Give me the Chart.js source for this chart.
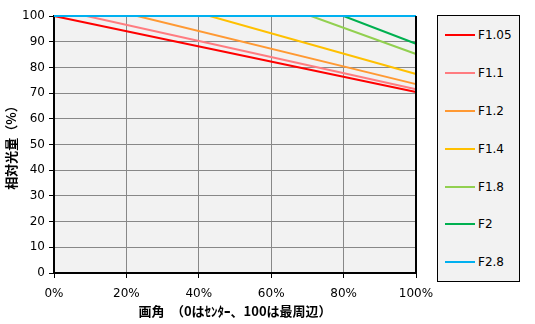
<!DOCTYPE html>
<html lang="ja">
<head>
<meta charset="UTF-8">
<title>相対光量</title>
<script src="https://cdn.jsdelivr.net/npm/chart.js"></script>
<style>
  body { margin: 0; background: #fff; }
  #wrap { position: relative; width: 535px; height: 324px; }
  #legend {
    position: absolute; left: 437px; top: 15px; width: 83px; height: 267px;
    background: #f2f2f2; border: 1px solid #000; box-sizing: border-box;
    font-family: "DejaVu Sans", sans-serif; font-size: 12px; color: #000;
  }
  .item { position: absolute; left: 7px; height: 14px; line-height: 14px; }
  .item span.sw { position: absolute; left: 0; top: 6px; width: 30px; height: 2px; }
  .item span.tx { position: absolute; left: 33px; white-space: nowrap; }
</style>
</head>
<body>
<div id="wrap">
  <canvas id="c" width="535" height="324"></canvas>
  <div id="legend"></div>
</div>
<script>
// series names and colours
var names = ['F1.05', 'F1.1', 'F1.2', 'F1.4', 'F1.8', 'F2', 'F2.8'];
var colors = ['#ff0000', '#ff7c80', '#ff9933', '#ffc000', '#92d050', '#00b050', '#00b0f0'];

// angle of view (%) where each curve leaves 100, and the value at the edge
var angles = [
  [0, 100],
  [0, 9, 100],
  [0, 23, 100],
  [0, 43, 100],
  [0, 71, 100],
  [0, 80, 100],
  [0, 100]
];
var light = [
  [100, 70.4],
  [100, 100, 71.5],
  [100, 100, 73.5],
  [100, 100, 77.4],
  [100, 100, 85.2],
  [100, 100, 89.2],
  [100, 100]
];

var xTicks = [0, 20, 40, 60, 80, 100];
var yTicks = [0, 10, 20, 30, 40, 50, 60, 70, 80, 90, 100];

// later series are drawn on top (F2.8 covers the 100 line)
var datasets = names.map(function (n, i) {
  return {
    label: n,
    data: angles[i].map(function (a, k) { return { x: a, y: light[i][k] }; }),
    borderColor: colors[i],
    borderWidth: 2,
    pointRadius: 0,
    fill: false,
    tension: 0,
    clip: false,
    order: names.length - 1 - i
  };
});

// plot background and right border
var plotFrame = {
  id: 'plotFrame',
  beforeDraw: function (chart) {
    var a = chart.chartArea, ctx = chart.ctx;
    ctx.save();
    ctx.fillStyle = '#f2f2f2';
    ctx.fillRect(a.left, a.top, a.right - a.left, a.bottom - a.top);
    ctx.restore();
  },
  afterDatasetsDraw: function (chart) {
    var a = chart.chartArea, ctx = chart.ctx;
    ctx.save();
    ctx.strokeStyle = '#000';
    ctx.lineWidth = 2;
    ctx.beginPath();
    ctx.moveTo(a.right, a.top);
    ctx.lineTo(a.right, a.bottom);
    ctx.stroke();
    ctx.restore();
  }
};

var tickFont = { family: 'DejaVu Sans', size: 12 };
var titleFont = { family: 'Noto Sans CJK JP', size: 13, weight: 'bold' };

new Chart(document.getElementById('c').getContext('2d'), {
  type: 'line',
  data: { datasets: datasets },
  options: {
    responsive: false,
    animation: false,
    layout: { padding: { top: 16, right: 119, left: 0, bottom: 0 } },
    plugins: { legend: { display: false }, tooltip: { enabled: false } },
    scales: {
      x: {
        type: 'linear', min: 0, max: 100,
        afterBuildTicks: function (s) { s.ticks = xTicks.map(function (v) { return { value: v }; }); },
        afterFit: function (s) { s.height = 51; },
        ticks: { color: '#000', font: tickFont, padding: 9, maxRotation: 0,
          callback: function (v) { return v + '%'; } },
        grid: { color: '#888', tickColor: '#000', tickLength: 5 },
        border: { color: '#000', width: 2 },
        title: { display: true, text: '画角　（0はｾﾝﾀｰ、100は最周辺）', color: '#000',
          font: titleFont, padding: { top: 0, bottom: 5 } }
      },
      y: {
        min: 0, max: 100,
        afterBuildTicks: function (s) { s.ticks = yTicks.map(function (v) { return { value: v }; }); },
        afterFit: function (s) { s.width = 54; },
        ticks: { color: '#000', font: tickFont, padding: 4 },
        grid: { color: '#888', tickColor: '#000', tickLength: 5 },
        border: { color: '#000', width: 2 },
        title: { display: true, text: '相対光量（%）', color: '#000',
          font: titleFont, padding: { top: 3, bottom: 0 } }
      }
    }
  },
  plugins: [plotFrame]
});

// legend entries
var legend = document.getElementById('legend');
var rowTops = [19, 57, 95, 133, 171, 208, 246];
names.forEach(function (n, i) {
  var d = document.createElement('div');
  d.className = 'item';
  d.style.top = (rowTops[i] - 7) + 'px';
  d.innerHTML = '<span class="sw" style="background:' + colors[i] + '"></span><span class="tx">' + n + '</span>';
  legend.appendChild(d);
});
</script>
</body>
</html>
